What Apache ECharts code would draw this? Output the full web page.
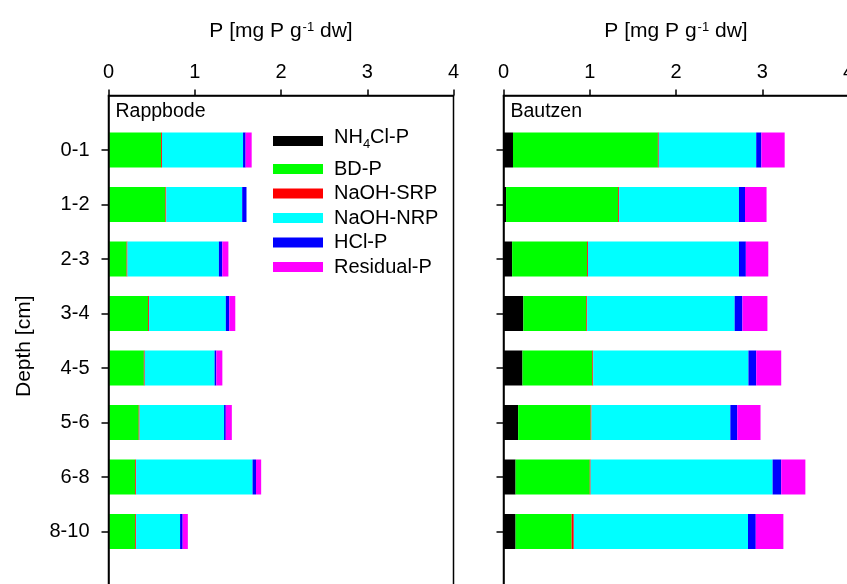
<!DOCTYPE html>
<html><head><meta charset="utf-8">
<script src="https://cdn.jsdelivr.net/npm/echarts@6/dist/echarts.min.js"></script>
<style>html,body{margin:0;padding:0;background:#fff}#c{width:847px;height:584px}</style>
</head><body><div id="c"></div>
<script>
const depths = ['0-1','1-2','2-3','3-4','4-5','5-6','6-8','8-10'];
const fractions = ['NH4Cl-P','BD-P','NaOH-SRP','NaOH-NRP','HCl-P','Residual-P'];
const colors = ['#000000','#00ff00','#ff0000','#00ffff','#0000ff','#ff00ff'];
const xTicks = [0, 1, 2, 3, 4];
const panelNames = ['Rappbode', 'Bautzen'];

// Rappbode
const rappNH4 = [0.01, 0.01, 0.01, 0.01, 0.01, 0.01, 0.01, 0.01];
const rappBD  = [0.60, 0.65, 0.20, 0.45, 0.40, 0.34, 0.30, 0.30];
const rappSRP = [0.01, 0.01, 0.01, 0.01, 0.01, 0.01, 0.01, 0.01];
const rappNRP = [0.94, 0.88, 1.06, 0.89, 0.81, 0.98, 1.35, 0.51];
const rappHCl = [0.03, 0.05, 0.04, 0.04, 0.02, 0.02, 0.04, 0.03];
const rappRes = [0.07, 0.00, 0.07, 0.07, 0.07, 0.07, 0.06, 0.06];

// Bautzen
const bautNH4 = [0.11, 0.03, 0.10, 0.23, 0.22, 0.17, 0.14, 0.14];
const bautBD  = [1.68, 1.30, 0.87, 0.73, 0.81, 0.84, 0.86, 0.65];
const bautSRP = [0.01, 0.01, 0.01, 0.01, 0.01, 0.01, 0.01, 0.025];
const bautNRP = [1.13, 1.39, 1.75, 1.71, 1.80, 1.61, 2.11, 2.02];
const bautHCl = [0.06, 0.07, 0.08, 0.09, 0.09, 0.08, 0.10, 0.09];
const bautRes = [0.27, 0.25, 0.26, 0.29, 0.29, 0.27, 0.28, 0.32];

const panelValues = [
  [rappNH4, rappBD, rappSRP, rappNRP, rappHCl, rappRes],
  [bautNH4, bautBD, bautSRP, bautNRP, bautHCl, bautRes]
];

const FF = 'Liberation Sans, Arial, sans-serif';
const cats = [''].concat(depths, ['']);
const pad = arr => [null].concat(arr, [null]);
const notEmpty = (idx, val) => val !== '';

const gridLeft = [108.5, 503.5];
const gridW = 345, gridTop = 95.5, gridH = 490.5;

const grids = gridLeft.map(l => ({
  left: l, top: gridTop, width: gridW, height: gridH, show: true,
  borderColor: '#000', borderWidth: 1.5, outerBoundsMode: 'none', containLabel: false
}));

const xAxes = gridLeft.map((l, i) => ({
  gridIndex: i, type: 'value', position: 'top', min: xTicks[0], max: xTicks[xTicks.length - 1], interval: 1, z: 5,
  axisLine: {show: true, lineStyle: {color: '#000', width: 1.5}},
  axisTick: {show: true, length: 6, lineStyle: {color: '#000', width: 1.5}},
  axisLabel: {fontSize: 20, color: '#000', fontFamily: FF, margin: 13},
  splitLine: {show: false},
  name: '{n|P [mg P g}{s|-1}{n| dw]}',
  nameLocation: 'middle', nameGap: 52,
  nameTextStyle: {rich: {
    n: {fontSize: 21, lineHeight: 24, color: '#000', fontFamily: FF},
    s: {fontSize: 13, lineHeight: 13, verticalAlign: 'top', padding: [1, 0, 0, 1], color: '#000', fontFamily: FF}
  }}
}));

const yAxes = gridLeft.map((l, i) => ({
  gridIndex: i, type: 'category', data: cats, inverse: true, boundaryGap: false, z: 5,
  axisLine: {show: true, lineStyle: {color: '#000', width: 1.5}},
  axisTick: {show: true, length: 7, interval: notEmpty, lineStyle: {color: '#000', width: 1.5}},
  axisLabel: {show: i === 0, interval: notEmpty, fontSize: 20, color: '#000', fontFamily: FF, margin: 19},
  name: i === 0 ? 'Depth [cm]' : '',
  nameLocation: 'middle', nameRotate: 90, nameGap: 74,
  nameTextStyle: {fontSize: 21, color: '#000', fontFamily: FF, padding: [0, 11, 0, 0]}
}));

const series = [];
panelValues.forEach((vals, i) => {
  fractions.forEach((f, j) => {
    series.push({
      type: 'bar', name: f, xAxisIndex: i, yAxisIndex: i, stack: 'panel' + i,
      barWidth: 35, itemStyle: {color: colors[j]}, silent: true,
      data: pad(vals[j])
    });
  });
});

const chart = echarts.init(document.getElementById('c'));
chart.setOption({
  animation: false,
  backgroundColor: '#fff',
  title: panelNames.map((n, i) => ({
    text: n, left: gridLeft[i] + 7, top: 102, padding: 0,
    textStyle: {fontSize: 19.5, fontWeight: 'normal', color: '#000', fontFamily: FF}
  })),
  legend: {
    data: fractions, orient: 'vertical', left: 273, top: 127.5, padding: 0,
    itemWidth: 50, itemHeight: 10, itemGap: 4.5, icon: 'rect',
    formatter: name => name === 'NH4Cl-P' ? '{a1|NH}{s|4}{a1|Cl-P}' : '{a|' + name + '}',
    textStyle: {
      color: '#000', fontSize: 20, fontFamily: FF, padding: [0, 0, 0, 6],
      rich: {
        a: {fontSize: 20, lineHeight: 20, color: '#000', fontFamily: FF},
        a1: {fontSize: 20, lineHeight: 20, padding: [0, 0, 7, 0], color: '#000', fontFamily: FF},
        s: {fontSize: 13, lineHeight: 13, padding: [7, 0, 0, 0], color: '#000', fontFamily: FF}
      }
    }
  },
  grid: grids,
  xAxis: xAxes,
  yAxis: yAxes,
  series: series
});
</script>
</body></html>
